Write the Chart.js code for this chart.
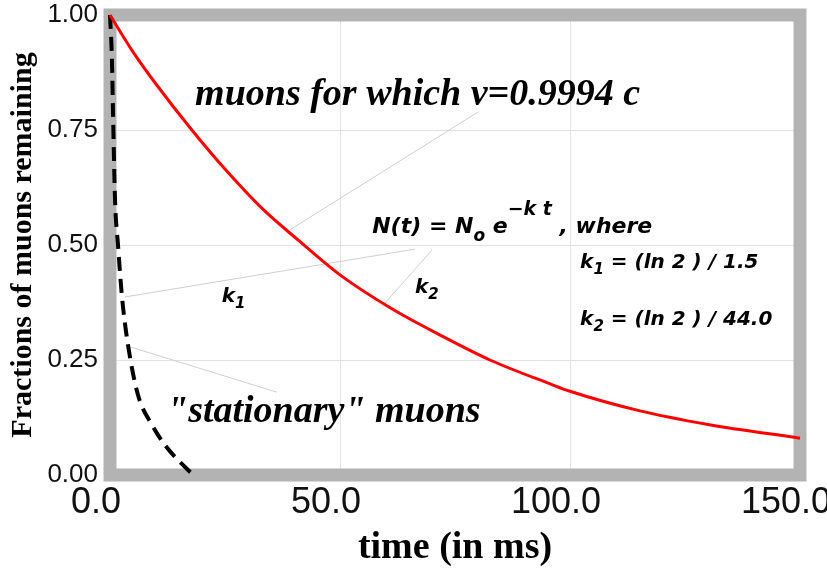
<!DOCTYPE html>
<html>
<head>
<meta charset="utf-8">
<script src="https://cdn.jsdelivr.net/npm/chart.js@4"></script>
<style>
  html, body { margin: 0; padding: 0; background: #fff; }
  #wrap { width: 827px; height: 576px; }
</style>
</head>
<body>
<div id="wrap"><canvas id="myChart"></canvas></div>
<script>
// muons moving at v = 0.9994 c (red curve)
const movingTime = [0, 5, 10, 17.8, 25, 33, 41, 50, 61, 72, 82.6, 95.7, 100, 115, 130, 150];
const movingFraction = [1.00, 0.92, 0.85, 0.75, 0.665, 0.58, 0.51, 0.435, 0.363, 0.303, 0.25, 0.198, 0.182, 0.14, 0.11, 0.08];

// "stationary" muons (black dashed curve)
const stationaryTime = [0, 0.43, 0.65, 1.09, 1.74, 2.61, 3.91, 6.09, 9.13, 11.96, 16.96, 18.26];
const stationaryFraction = [1.00, 0.90, 0.79, 0.60, 0.50, 0.387, 0.283, 0.174, 0.109, 0.065, 0.011, 0.0];

const xTickValues = [0, 50, 100, 150];
const yTickValues = [0, 0.25, 0.5, 0.75, 1];

const serif = '"Liberation Serif", "Times New Roman", serif';
const sans = '"DejaVu Sans", Verdana, sans-serif';

// thin grey pointer lines, in data units [t1, f1, t2, f2]
const leaderLines = [
  [80.0, 0.789, 39.1, 0.533],
  [3.26, 0.387, 66.3, 0.491],
  [70.0, 0.489, 59.8, 0.374],
  [4.57, 0.278, 36.3, 0.180]
];

const bigItalic = 'italic bold 38px ' + serif;
const formulaFont = 'italic bold 22px ' + sans;
const formulaSub = 'italic bold 17px ' + sans;
const formulaSup = 'italic bold 19px ' + sans;
const eqFont = 'italic bold 20px ' + sans;
const subFont = 'italic bold 15px ' + sans;

// text labels, anchored at their baseline start in data units
const notes = [
  { t: 18.5, f: 0.804, runs: [['muons for which v=0.9994 c', bigItalic, 0]] },
  { t: 12.4, f: 0.115, runs: [['"stationary" muons', bigItalic, 0]] },
  { t: 57.0, f: 0.526, runs: [['N(t) = N', formulaFont, 0], ['o', formulaSub, 8], [' e', formulaFont, 0], ['\u2212k t', formulaSup, -18], [' , where', formulaFont, 0]] },
  { t: 102.2, f: 0.450, runs: [['k', eqFont, 0], ['1', subFont, 6], [' = (ln 2 ) / 1.5', eqFont, 0]] },
  { t: 102.2, f: 0.326, runs: [['k', eqFont, 0], ['2', subFont, 6], [' = (ln 2 ) / 44.0', eqFont, 0]] },
  { t: 24.3, f: 0.376, runs: [['k', eqFont, 0], ['1', subFont, 6]] },
  { t: 66.3, f: 0.396, runs: [['k', eqFont, 0], ['2', subFont, 6]] }
];

const muonNotes = {
  id: 'muonNotes',
  beforeDatasetsDraw(chart) {
    const { ctx, chartArea: a, scales: { x, y } } = chart;
    ctx.save();
    ctx.strokeStyle = '#b3b3b3';
    ctx.lineWidth = 13;
    ctx.strokeRect(a.left, a.top, a.right - a.left, a.bottom - a.top);

    ctx.strokeStyle = '#cfcfcf';
    ctx.lineWidth = 1;
    leaderLines.forEach(l => {
      ctx.beginPath();
      ctx.moveTo(x.getPixelForValue(l[0]), y.getPixelForValue(l[1]));
      ctx.lineTo(x.getPixelForValue(l[2]), y.getPixelForValue(l[3]));
      ctx.stroke();
    });
    ctx.restore();
  },
  afterDatasetsDraw(chart) {
    const { ctx, scales: { x, y } } = chart;
    ctx.save();
    ctx.fillStyle = '#000';
    ctx.textBaseline = 'alphabetic';
    ctx.textAlign = 'left';
    notes.forEach(n => {
      let px = x.getPixelForValue(n.t);
      const py = y.getPixelForValue(n.f);
      n.runs.forEach(r => {
        ctx.font = r[1];
        ctx.fillText(r[0], px, py + r[2]);
        px += ctx.measureText(r[0]).width;
      });
    });
    ctx.restore();
  }
};

const toPoints = (xs, ys) => xs.map((v, i) => ({ x: v, y: ys[i] }));

new Chart(document.getElementById('myChart'), {
  type: 'line',
  data: {
    datasets: [
      {
        label: 'v = 0.9994 c',
        data: toPoints(movingTime, movingFraction),
        borderColor: '#ff0000',
        borderWidth: 3,
        pointRadius: 0,
        cubicInterpolationMode: 'monotone',
        clip: 8
      },
      {
        label: 'stationary',
        data: toPoints(stationaryTime, stationaryFraction),
        borderColor: '#000000',
        borderWidth: 4,
        borderDash: [14, 8],
        pointRadius: 0,
        cubicInterpolationMode: 'monotone',
        clip: 8
      }
    ]
  },
  options: {
    responsive: true,
    maintainAspectRatio: false,
    animation: false,
    layout: { padding: { top: 15, right: 27, left: 0, bottom: 0 } },
    plugins: {
      legend: { display: false },
      tooltip: { enabled: false }
    },
    scales: {
      x: {
        type: 'linear',
        min: 0,
        max: 150,
        afterBuildTicks: s => { s.ticks = xTickValues.map(v => ({ value: v })); },
        afterFit: s => { s.height = 101; s.paddingLeft = 0; s.paddingRight = 0; },
        grid: { color: '#e2e2e2', lineWidth: 1, drawTicks: false },
        border: { display: false },
        ticks: {
          padding: 6,
          labelOffset: -14,
          color: '#111',
          font: { family: '"Liberation Sans", Arial, sans-serif', size: 36 },
          callback: v => v.toFixed(1)
        },
        title: {
          display: true,
          text: 'time (in ms)',
          color: '#000',
          padding: { top: 0, bottom: 5 },
          font: { family: serif, size: 38, weight: 'bold' }
        }
      },
      y: {
        min: 0,
        max: 1,
        afterBuildTicks: s => { s.ticks = yTickValues.map(v => ({ value: v })); },
        afterFit: s => { s.width = 110; s.paddingTop = 0; s.paddingBottom = 0; },
        grid: { color: '#e2e2e2', lineWidth: 1, drawTicks: false },
        border: { display: false },
        ticks: {
          padding: 12,
          color: '#111',
          font: { family: '"Liberation Sans", Arial, sans-serif', size: 26 },
          callback: v => v.toFixed(2)
        },
        title: {
          display: true,
          text: 'Fractions of muons remaining',
          color: '#000',
          padding: { top: 5, bottom: 0 },
          font: { family: serif, size: 30, weight: 'bold' }
        }
      }
    }
  },
  plugins: [muonNotes]
});
</script>
</body>
</html>
